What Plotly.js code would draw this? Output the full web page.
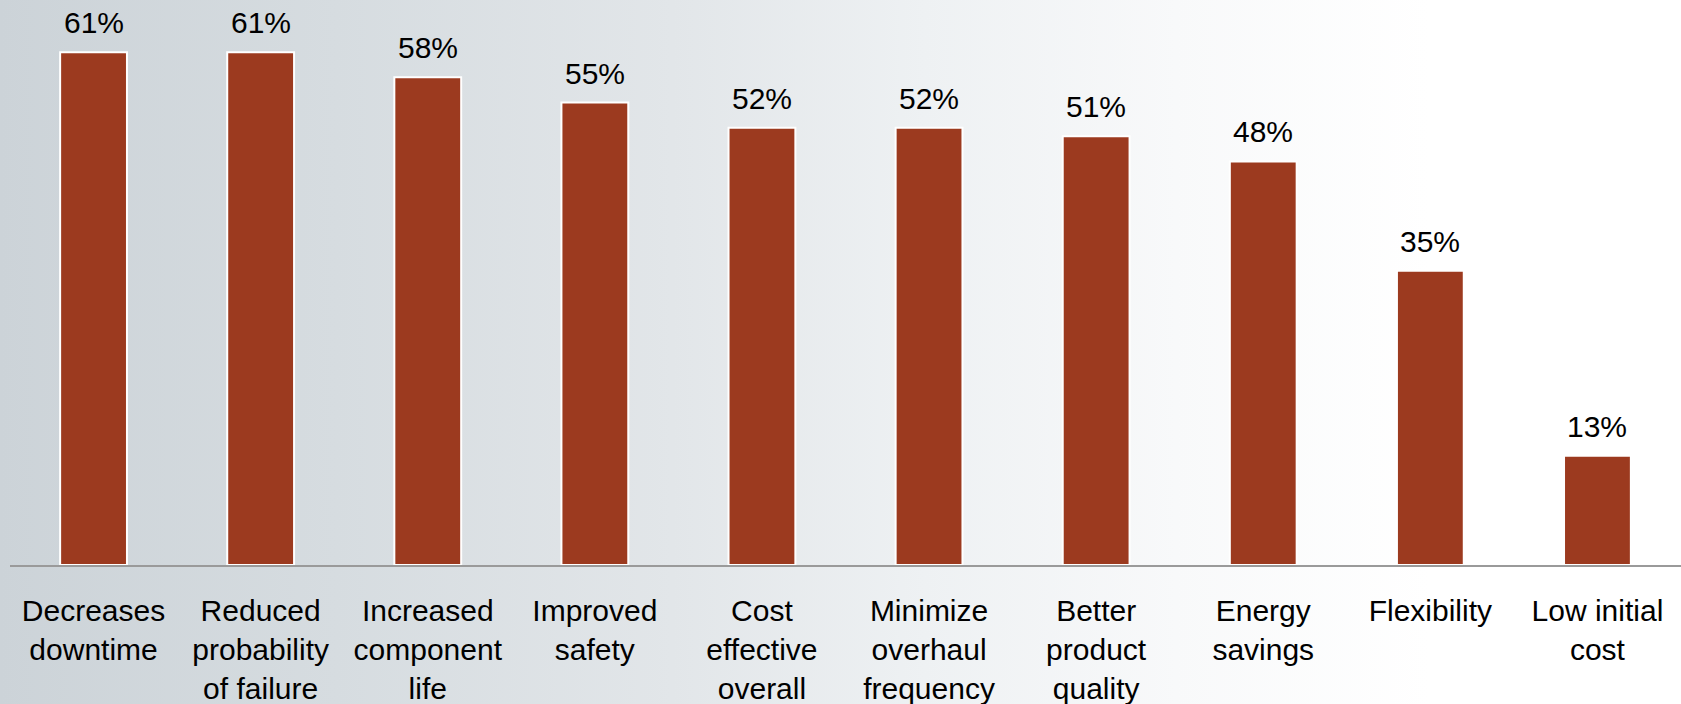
<!DOCTYPE html>
<html>
<head>
<meta charset="utf-8">
<script src="https://cdn.plot.ly/plotly-3.0.1.min.js"></script>
<style>
  html, body { margin: 0; padding: 0; }
  body {
    width: 1681px; height: 704px; overflow: hidden;
    background: linear-gradient(to right, #ccd3d8 0%, #d6dce0 20%, #e2e6e9 40%, #eef1f3 55%, #f8f9fa 70%, #ffffff 85%, #ffffff 100%);
  }
  #chart { width: 1681px; height: 704px; }
</style>
</head>
<body>
<div id="chart"></div>
<script>
const categories = [
  "Decreases<br>downtime",
  "Reduced<br>probability<br>of failure",
  "Increased<br>component<br>life",
  "Improved<br>safety",
  "Cost<br>effective<br>overall",
  "Minimize<br>overhaul<br>frequency",
  "Better<br>product<br>quality",
  "Energy<br>savings",
  "Flexibility",
  "Low initial<br>cost"
];
const values = [61, 61, 58, 55, 52, 52, 51, 48, 35, 13];
const valueLabels = values.map(v => v + "%");

const trace = {
  type: "bar",
  x: categories,
  y: values,
  marker: { color: "#9c3a1f", line: { color: "#ffffff", width: 2 } },
  hoverinfo: "skip"
};

const annotations = categories.map((c, i) => ({
  x: c, y: values[i], xref: "x", yref: "y",
  text: valueLabels[i], showarrow: false,
  yanchor: "bottom", yshift: 11,
  font: { family: "Liberation Sans, Arial, sans-serif", size: 30, color: "#000000" }
}));

const layout = {
  width: 1681, height: 704,
  margin: { l: 10, r: 0, t: 0, b: 139 },
  paper_bgcolor: "rgba(0,0,0,0)",
  plot_bgcolor: "rgba(0,0,0,0)",
  bargap: 0.6,
  showlegend: false,
  xaxis: {
    type: "category",
    showline: true, linecolor: "#9a9a9a", linewidth: 2,
    ticks: "", ticklabelstandoff: 18,
    tickfont: { family: "Liberation Sans, Arial, sans-serif", size: 30, color: "#000000" },
    showgrid: false, zeroline: false
  },
  yaxis: {
    range: [0, 67.2],
    visible: false, showgrid: false, zeroline: false
  },
  annotations: annotations
};

Plotly.newPlot("chart", [trace], layout, { displayModeBar: false, staticPlot: true });
</script>
</body>
</html>
